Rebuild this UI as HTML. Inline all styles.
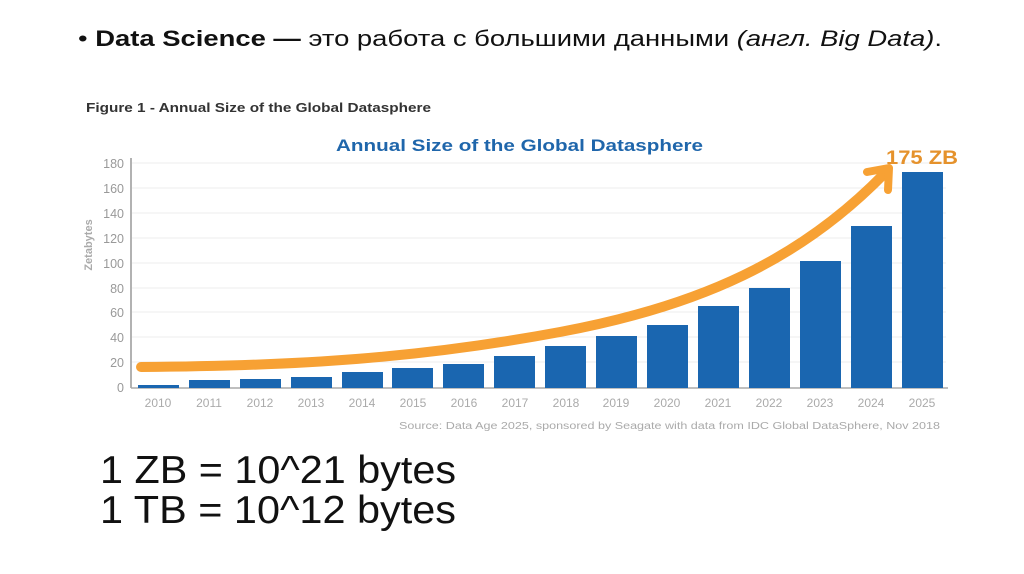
<!DOCTYPE html>
<html><head><meta charset="utf-8"><style>
html,body{margin:0;padding:0;background:#fff;width:1024px;height:574px;overflow:hidden}
</style></head><body>
<svg width="1024" height="574" viewBox="0 0 1024 574" xmlns="http://www.w3.org/2000/svg" font-family="Liberation Sans, sans-serif">
<rect width="1024" height="574" fill="#fff"/>
<text x="78" y="46" font-size="22" fill="#111" textLength="864" lengthAdjust="spacingAndGlyphs">• <tspan font-weight="bold">Data Science —</tspan> это работа с большими данными <tspan font-style="italic">(англ. Big Data)</tspan>.</text>
<text x="86" y="112" font-size="13" font-weight="bold" fill="#333" textLength="345" lengthAdjust="spacingAndGlyphs">Figure 1 - Annual Size of the Global Datasphere</text>
<text x="336" y="151" font-size="17" font-weight="bold" fill="#1f66ab" textLength="367" lengthAdjust="spacingAndGlyphs">Annual Size of the Global Datasphere</text>
<g stroke="#eeeeee" stroke-width="1">
<line x1="132" x2="946" y1="163" y2="163"/><line x1="132" x2="946" y1="188" y2="188"/><line x1="132" x2="946" y1="213" y2="213"/><line x1="132" x2="946" y1="238" y2="238"/><line x1="132" x2="946" y1="263" y2="263"/><line x1="132" x2="946" y1="288" y2="288"/><line x1="132" x2="946" y1="312" y2="312"/><line x1="132" x2="946" y1="337" y2="337"/><line x1="132" x2="946" y1="362" y2="362"/>
</g>
<line x1="131" y1="158" x2="131" y2="388" stroke="#999" stroke-width="1.5"/>
<line x1="131" y1="388" x2="948" y2="388" stroke="#aaa" stroke-width="1.5"/>
<g font-size="12.5" fill="#999" text-anchor="end">
<text x="124" y="168">180</text><text x="124" y="193">160</text><text x="124" y="218">140</text><text x="124" y="243">120</text><text x="124" y="268">100</text><text x="124" y="293">80</text><text x="124" y="317">60</text><text x="124" y="342">40</text><text x="124" y="367">20</text><text x="124" y="392">0</text>
</g>
<text transform="translate(92,245) rotate(-90)" font-size="11" font-weight="bold" fill="#aaa" text-anchor="middle">Zetabytes</text>
<g fill="#1a66b0">
<rect x="138" y="385" width="41" height="3"/>
<rect x="189" y="380" width="41" height="8"/>
<rect x="240" y="379" width="41" height="9"/>
<rect x="291" y="377" width="41" height="11"/>
<rect x="342" y="372" width="41" height="16"/>
<rect x="392" y="368" width="41" height="20"/>
<rect x="443" y="364" width="41" height="24"/>
<rect x="494" y="356" width="41" height="32"/>
<rect x="545" y="346" width="41" height="42"/>
<rect x="596" y="336" width="41" height="52"/>
<rect x="647" y="325" width="41" height="63"/>
<rect x="698" y="306" width="41" height="82"/>
<rect x="749" y="288" width="41" height="100"/>
<rect x="800" y="261" width="41" height="127"/>
<rect x="851" y="226" width="41" height="162"/>
<rect x="902" y="172" width="41" height="216"/>
</g>
<path d="M141,367 C300,366 420,358 560,332 C700,306 800,260 884,174" fill="none" stroke="#f7a134" stroke-width="10" stroke-linecap="round"/>
<path d="M867,172 L889,168 L888,190" fill="none" stroke="#f7a134" stroke-width="8" stroke-linecap="round" stroke-linejoin="round"/>
<text x="886" y="164" font-size="19" font-weight="bold" fill="#e5922c" textLength="72" lengthAdjust="spacingAndGlyphs">175 ZB</text>
<g font-size="12" fill="#aaa" text-anchor="middle">
<text x="158" y="407">2010</text><text x="209" y="407">2011</text><text x="260" y="407">2012</text><text x="311" y="407">2013</text><text x="362" y="407">2014</text><text x="413" y="407">2015</text><text x="464" y="407">2016</text><text x="515" y="407">2017</text><text x="566" y="407">2018</text><text x="616" y="407">2019</text><text x="667" y="407">2020</text><text x="718" y="407">2021</text><text x="769" y="407">2022</text><text x="820" y="407">2023</text><text x="871" y="407">2024</text><text x="922" y="407">2025</text>
</g>
<text x="399" y="429" font-size="10" fill="#aaa" textLength="541" lengthAdjust="spacingAndGlyphs">Source: Data Age 2025, sponsored by Seagate with data from IDC Global DataSphere, Nov 2018</text>
<text x="100" y="483" font-size="39" fill="#111" textLength="356" lengthAdjust="spacingAndGlyphs">1 ZB = 10^21 bytes</text>
<text x="100" y="523" font-size="39" fill="#111" textLength="356" lengthAdjust="spacingAndGlyphs">1 TB = 10^12 bytes</text>
</svg>
</body></html>
